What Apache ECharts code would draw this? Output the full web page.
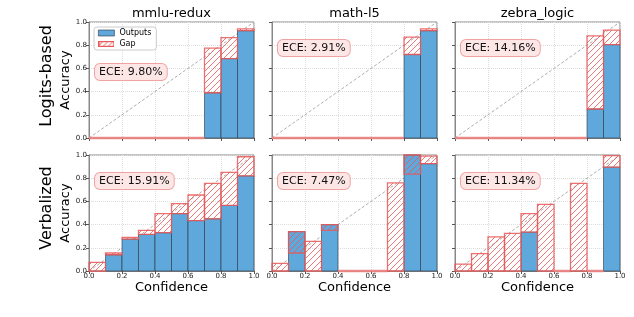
<!DOCTYPE html>
<html>
<head>
<meta charset="utf-8">
<script src="https://cdn.jsdelivr.net/npm/echarts@6/dist/echarts.min.js"></script>
<style>
html,body{margin:0;padding:0;background:#fff;}
#chart{width:634px;height:317px;}
</style>
</head>
<body>
<div id="chart"></div>
<script>
// ---------- data ----------
const binEdges = [0, 0.1, 0.2, 0.3, 0.4, 0.5, 0.6, 0.7, 0.8, 0.9, 1.0];
const datasets = ['mmlu-redux', 'math-l5', 'zebra_logic'];
const methods = ['Logits-based', 'Verbalized'];
const eceLabels = ['9.80%', '2.91%', '14.16%', '15.91%', '7.47%', '11.34%'];

// accuracy (Outputs) and mean confidence per bin; empty bins = 0
const logitsMmluAcc  = [0, 0, 0, 0, 0, 0, 0, 0.39, 0.685, 0.925];
const logitsMmluConf = [0, 0, 0, 0, 0, 0, 0, 0.775, 0.865, 0.94];
const logitsMathAcc  = [0, 0, 0, 0, 0, 0, 0, 0, 0.72, 0.925];
const logitsMathConf = [0, 0, 0, 0, 0, 0, 0, 0, 0.87, 0.94];
const logitsZebraAcc  = [0, 0, 0, 0, 0, 0, 0, 0, 0.25, 0.805];
const logitsZebraConf = [0, 0, 0, 0, 0, 0, 0, 0, 0.88, 0.93];
const verbMmluAcc  = [0, 0.14, 0.275, 0.315, 0.33, 0.495, 0.435, 0.45, 0.565, 0.82];
const verbMmluConf = [0.075, 0.155, 0.29, 0.35, 0.495, 0.58, 0.655, 0.755, 0.85, 0.985];
const verbMathAcc  = [0, 0.34, 0, 0.40, 0, 0, 0, 0, 1.0, 0.925];
const verbMathConf = [0.065, 0.155, 0.255, 0.35, 0, 0, 0, 0.76, 0.835, 0.99];
const verbZebraAcc  = [0, 0, 0, 0, 0.335, 0, 0, 0, 0, 0.895];
const verbZebraConf = [0.06, 0.15, 0.295, 0.325, 0.495, 0.575, 0, 0.755, 0, 0.995];

const panels = [
  [logitsMmluAcc, logitsMmluConf], [logitsMathAcc, logitsMathConf], [logitsZebraAcc, logitsZebraConf],
  [verbMmluAcc, verbMmluConf], [verbMathAcc, verbMathConf], [verbZebraAcc, verbZebraConf]
];

// ---------- styles ----------
const FONT = 'DejaVu Sans';
const BLUE = '#5fa8dc';
const BAR_EDGE = 'rgba(45,50,60,0.75)';
const RED_EDGE = 'rgba(232,88,88,0.85)';
const HATCH_COLOR = 'rgba(235,85,85,0.8)';
const EMPTY_EDGE = 'rgba(240,130,130,0.9)';
const HATCH_STEP = 6;
const GRID_LEFT = [89, 272, 455];
const GRID_TOP = [22, 155];
const GW = 165, GH = 116;

// SVG path of "/" hatch lines clipped to a pixel rectangle
function hatchPath(x, y, w, h) {
  let d = '';
  const sMin = x + y, sMax = x + w + y + h;
  let s = Math.ceil(sMin / HATCH_STEP) * HATCH_STEP;
  for (; s <= sMax; s += HATCH_STEP) {
    const lo = Math.max(x, s - (y + h));
    const hi = Math.min(x + w, s - y);
    if (hi - lo > 0.2) {
      d += 'M' + lo.toFixed(2) + ' ' + (s - lo).toFixed(2) + 'L' + hi.toFixed(2) + ' ' + (s - hi).toFixed(2);
    }
  }
  return d || 'M0 0';
}

function legendHatchIcon() {
  const c = document.createElement('canvas');
  c.width = 32; c.height = 12;
  const ctx = c.getContext('2d');
  ctx.fillStyle = '#ffffff';
  ctx.fillRect(0, 0, 32, 12);
  ctx.strokeStyle = '#ec7070';
  ctx.lineWidth = 1.6;
  ctx.beginPath();
  for (let s = -12; s < 48; s += 10) { ctx.moveTo(s, 12); ctx.lineTo(s + 12, 0); }
  ctx.stroke();
  ctx.strokeStyle = '#e85a5a';
  ctx.lineWidth = 2.4;
  ctx.strokeRect(1.2, 1.2, 29.6, 9.6);
  return 'image://' + c.toDataURL();
}

function renderOutputs(params, api) {
  const x0 = api.value(0), x1 = api.value(1), y = api.value(2);
  if (!(y > 0)) return;
  const p0 = api.coord([x0, 0]);
  const p1 = api.coord([x1, y]);
  return {
    type: 'rect',
    shape: { x: p0[0], y: p1[1], width: p1[0] - p0[0], height: p0[1] - p1[1] },
    style: { fill: BLUE, stroke: BAR_EDGE, lineWidth: 0.8 }
  };
}
function renderGap(params, api) {
  const x0 = api.value(0), x1 = api.value(1);
  const a = api.value(2), c = api.value(3);
  const lo = Math.min(a, c), hi = Math.max(a, c);
  const p0 = api.coord([x0, lo]);
  const p1 = api.coord([x1, hi]);
  if (hi - lo <= 0) {
    return {
      type: 'line',
      shape: { x1: p0[0], y1: p0[1], x2: p1[0], y2: p1[1] },
      style: { stroke: EMPTY_EDGE, lineWidth: 2.5 }
    };
  }
  const rx = p0[0], ry = p1[1], rw = p1[0] - p0[0], rh = p0[1] - p1[1];
  return {
    type: 'group',
    children: [
      { type: 'path', shape: { pathData: hatchPath(rx, ry, rw, rh) },
        style: { fill: null, stroke: HATCH_COLOR, lineWidth: 1 } },
      { type: 'rect', shape: { x: rx, y: ry, width: rw, height: rh },
        style: { fill: null, stroke: RED_EDGE, lineWidth: 1.3 } }
    ]
  };
}

const grid = [], xAxis = [], yAxis = [], series = [], graphic = [];
for (let r = 0; r < 2; r++) {
  for (let c = 0; c < 3; c++) {
    const idx = r * 3 + c;
    grid.push({ left: GRID_LEFT[c], top: GRID_TOP[r], width: GW, height: GH,
      show: true, borderColor: '#888', borderWidth: 1, backgroundColor: 'transparent' });
    xAxis.push({
      gridIndex: idx, type: 'value', min: 0, max: 1, interval: 0.2,
      axisLabel: { show: r === 1, fontSize: 7, margin: 2, color: '#222', fontFamily: FONT,
        formatter: v => v.toFixed(1) },
      axisTick: { show: true, length: 3, lineStyle: { color: '#555' } },
      axisLine: { show: true, lineStyle: { color: '#888' } },
      splitLine: { show: true, lineStyle: { color: '#ddd', type: 'dotted' } },
      name: r === 1 ? 'Confidence' : '', nameLocation: 'middle', nameGap: 9,
      nameTextStyle: { fontSize: 13, color: '#000', fontFamily: FONT }
    });
    yAxis.push({
      gridIndex: idx, type: 'value', min: 0, max: 1, interval: 0.2,
      axisLabel: { show: c === 0, fontSize: 7, margin: 2, color: '#222', fontFamily: FONT,
        formatter: v => v.toFixed(1) },
      axisTick: { show: true, length: 3, lineStyle: { color: '#555' } },
      axisLine: { show: true, lineStyle: { color: '#888' } },
      splitLine: { show: true, lineStyle: { color: '#ddd', type: 'dotted' } },
      name: c === 0 ? 'Accuracy' : '', nameLocation: 'middle', nameGap: 15,
      nameTextStyle: { fontSize: 13, color: '#000', fontFamily: FONT }
    });
    const acc = panels[idx][0], conf = panels[idx][1];
    const outData = [], gapData = [];
    for (let i = 0; i < acc.length; i++) {
      outData.push([binEdges[i], binEdges[i + 1], acc[i]]);
      gapData.push([binEdges[i], binEdges[i + 1], acc[i], conf[i]]);
    }
    series.push({
      type: 'line', xAxisIndex: idx, yAxisIndex: idx, data: [[0, 0], [1, 1]],
      symbol: 'none', silent: true, z: 1,
      lineStyle: { color: '#999', width: 0.8, type: [3, 2] }
    });
    series.push({
      name: 'Outputs', type: 'custom', xAxisIndex: idx, yAxisIndex: idx,
      renderItem: renderOutputs, data: outData, z: 2, silent: true,
      encode: { x: [0, 1], y: 2 }, itemStyle: { color: BLUE }
    });
    series.push({
      name: 'Gap', type: 'custom', xAxisIndex: idx, yAxisIndex: idx,
      renderItem: renderGap, data: gapData, z: 3, silent: true,
      encode: { x: [0, 1], y: [2, 3] }, itemStyle: { color: '#f4b0b0' }
    });
    graphic.push({
      type: 'text', left: GRID_LEFT[c] + 5,
      top: GRID_TOP[r] + (idx === 0 ? 41 : 17), z: 10,
      style: {
        text: 'ECE: ' + eceLabels[idx], font: '11px "' + FONT + '"', fill: '#111',
        backgroundColor: '#fde6e6', borderColor: '#f0a3a3', borderWidth: 1,
        borderRadius: 5, padding: [3, 4, 2, 4]
      }
    });
  }
}
for (let c = 0; c < 3; c++) {
  graphic.push({ type: 'text', x: GRID_LEFT[c] + GW / 2, y: 14,
    style: { text: datasets[c], font: '13px "' + FONT + '"', fill: '#000', align: 'center', verticalAlign: 'middle' } });
}
const rowCenters = [76, 208];
for (let r = 0; r < 2; r++) {
  graphic.push({ type: 'text', x: 47, y: rowCenters[r], rotation: Math.PI / 2,
    style: { text: methods[r], font: '16px "' + FONT + '"', fill: '#000', align: 'center', verticalAlign: 'middle' } });
}

const option = {
  animation: false,
  backgroundColor: '#fff',
  grid, xAxis, yAxis, series, graphic,
  legend: {
    left: 94, top: 27, orient: 'vertical', selectedMode: false,
    itemWidth: 16, itemHeight: 6, itemGap: 3, padding: [2, 5, 2, 4],
    backgroundColor: '#fff', borderColor: '#ccc', borderWidth: 1, borderRadius: 3,
    textStyle: { fontSize: 8, color: '#000', fontFamily: FONT },
    data: [
      { name: 'Outputs', icon: 'rect', itemStyle: { color: BLUE, borderColor: BAR_EDGE, borderWidth: 0.8 } },
      { name: 'Gap', icon: legendHatchIcon() }
    ]
  }
};
const chart = echarts.init(document.getElementById('chart'), null, { renderer: 'canvas' });
chart.setOption(option);
</script>
</body>
</html>
